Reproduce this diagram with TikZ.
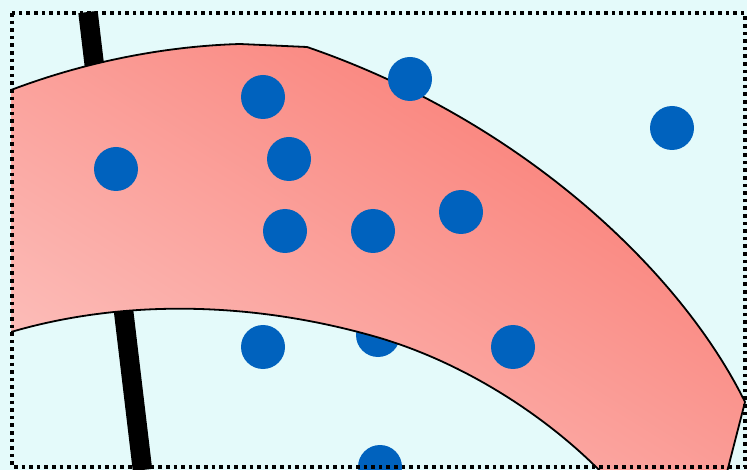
\documentclass[tikz,border=0pt]{standalone}
\definecolor{bg}{RGB}{228,250,250}
\definecolor{dotblue}{RGB}{0,98,190}
\definecolor{bandlight}{RGB}{252,190,186}
\definecolor{banddark}{RGB}{249,124,116}
\tikzset{
  blob/.style={fill=dotblue},
  bandedge/.style={draw=black,line width=1.8pt},
  frame/.style={draw=black,line width=3.4pt,dash pattern=on 3.6pt off 4pt},
}
\begin{document}
\begin{tikzpicture}[x=1pt,y=-1pt]
\useasboundingbox (0,0) rectangle (747,470);
\fill[bg] (0,0) rectangle (747,470);
\begin{scope}
\clip (11,12) rectangle (747,470);
% thick pole
\draw[line width=19.5pt] (88,12) -- (142.5,470);
% hidden dots
\fill[blob] (378,335) circle (22);
\fill[blob] (380,467) circle (22);
\fill[blob] (263,347) circle (22);
% band
\shade[top color=banddark,bottom color=bandlight,shading angle=-32]
  (11,90) .. controls (90,60) and (170,46) .. (240,44) -- (307,47)
  .. controls (520,120) and (680,270) .. (745,402) -- (727,472)
  -- (601,472) .. controls (550,420) and (470,365) .. (380,338)
  .. controls (250,300) and (120,300) .. (11,332) -- cycle;
\draw[bandedge] (11,90) .. controls (90,60) and (170,46) .. (240,44) -- (307,47)
  .. controls (520,120) and (680,270) .. (745,402) -- (727,472);
\draw[bandedge] (601,472) .. controls (550,420) and (470,365) .. (380,338)
  .. controls (250,300) and (120,300) .. (11,332);
% dots on top
\foreach \p in {(263,97),(410,79),(116,169),(289,159),(672,128),(285,231),(373,231),(461,212),(513,347)}
  \fill[blob] \p circle (22);
\end{scope}
\draw[frame] (12,13) rectangle (745,467);
\end{tikzpicture}
\end{document}
